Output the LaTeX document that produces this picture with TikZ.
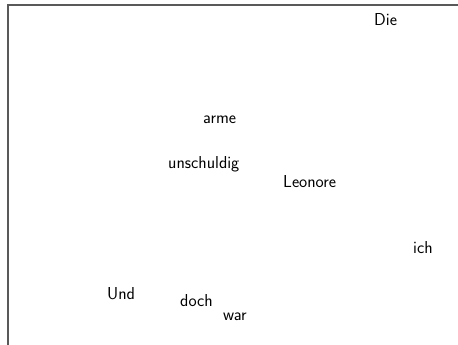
\documentclass[tikz,border=0pt]{standalone}
\begin{document}
\begin{tikzpicture}[x=1pt,y=-1pt,
  word/.style={anchor=base west,inner sep=0pt,font=\sffamily\fontsize{17.3}{20}\selectfont,text=black}]
\useasboundingbox (0,0) rectangle (458,345);
\coordinate (fl) at (8,345);
\coordinate (fc) at (8,5);
\coordinate (fr) at (458,5);
\draw[line width=1.5pt,black!65] (fl) -- (fc) -- (fr);
\node[word] (die) at (374,26) {Die};
\node[word] (arme) at (203,124) {arme};
\node[word] (unsch) at (168,168) {unschuldig};
\node[word] (leon) at (283,187) {Leonore};
\node[word] (ich) at (413,253) {ich};
\node[word] (und) at (107,299) {Und};
\node[word] (doch) at (180,306) {doch};
\node[word] (war) at (223,320) {war};
\end{tikzpicture}
\end{document}
